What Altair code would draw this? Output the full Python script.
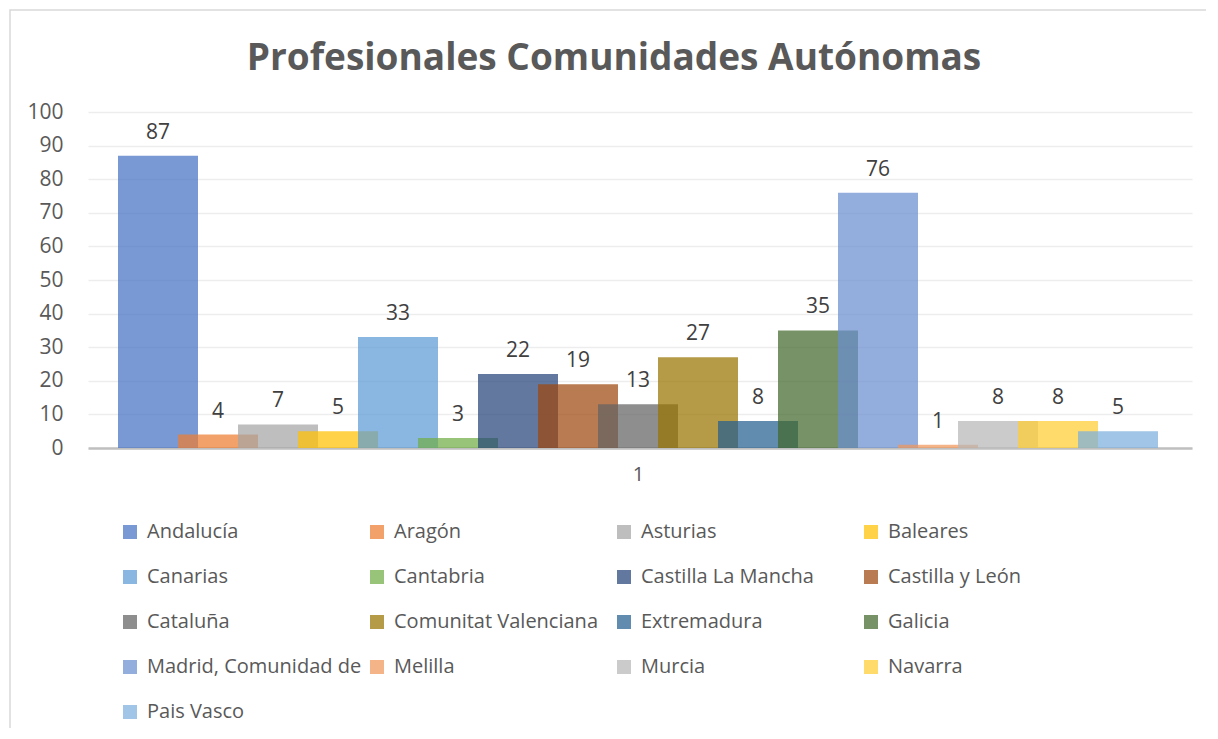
import altair as alt
import pandas as pd

regions = ["Andalucía", "Aragón", "Asturias", "Baleares", "Canarias", "Cantabria",
           "Castilla La Mancha", "Castilla y León", "Cataluña", "Comunitat Valenciana",
           "Extremadura", "Galicia", "Madrid, Comunidad de", "Melilla", "Murcia",
           "Navarra", "Pais Vasco"]
values = [87, 4, 7, 5, 33, 3, 22, 19, 13, 27, 8, 35, 76, 1, 8, 8, 5]
colors = ["#4472C4", "#ED7D31", "#A5A5A5", "#FFC000", "#5B9BD5", "#70AD47",
          "#264478", "#9E480E", "#636363", "#997300", "#255E91", "#43682B",
          "#698ED0", "#F1975A", "#B7B7B7", "#FFCD33", "#7CAFDD"]
y_ticks = list(range(0, 101, 10))
category_label = "1"
title_text = "Profesionales Comunidades Autónomas"

df = pd.DataFrame({"region": regions, "value": values, "idx": list(range(len(regions)))})

FONT = "Open Sans"
W, H = 1104, 336
OPA = 0.72

base = alt.Chart(df).transform_calculate(
    x0="datum.idx", x1="datum.idx + 4/3", xc="datum.idx + 2/3"
)

xscale = alt.Scale(domain=[-0.5, 17.9], nice=False, zero=False)
yscale = alt.Scale(domain=[0, 100], nice=False)

x_axis = alt.Axis(values=[8.6667], labelExpr=f"'{category_label}'", grid=False,
                  ticks=False, title=None, domainColor="#BFBFBF", domainWidth=2.5,
                  labelFontSize=20, labelFont=FONT, labelColor="#595959",
                  labelPadding=16)
y_axis = alt.Axis(values=y_ticks, grid=True, gridColor="#EDEDED", gridWidth=1.5,
                  domain=False, ticks=False, title=None, labelPadding=25,
                  labelOverlap=False,
                  labelFontSize=21, labelFont=FONT, labelColor="#595959")

bars = base.mark_bar(fillOpacity=OPA).encode(
    x=alt.X("x0:Q", scale=xscale, axis=x_axis),
    x2="x1:Q",
    y=alt.Y("value:Q", stack=None, scale=yscale, axis=y_axis),
    y2=alt.datum(0),
    color=alt.Color("region:N", scale=alt.Scale(domain=regions, range=colors),
                    legend=alt.Legend(title=None, orient="none", legendX=32, legendY=410,
                                      columns=4, direction="horizontal",
                                      symbolType="square", symbolSize=196,
                                      symbolStrokeWidth=0, symbolOpacity=OPA,
                                      labelFontSize=20, labelFont=FONT, labelColor="#595959",
                                      labelOffset=7, columnPadding=5, rowPadding=25,
                                      gridAlign="all", labelLimit=400)),
)

labels = base.mark_text(baseline="alphabetic", dy=-17, fontSize=21, font=FONT,
                        color="#404040").encode(
    x=alt.X("xc:Q", scale=xscale, axis=x_axis),
    y=alt.Y("value:Q", scale=yscale, axis=y_axis),
    text="value:Q"
)

border = alt.Chart(alt.Data(values=[{"b": 1}])).mark_rect(
    fill=None, stroke="#D9D9D9", strokeWidth=1.5
).encode(
    x=alt.value(-78), x2=alt.value(1200), y=alt.value(-102), y2=alt.value(800)
)

chart = alt.layer(border, bars, labels).properties(
    width=W, height=H,
    title=alt.Title(title_text, fontSize=37, font=FONT, fontWeight="bold",
                    color="#595959", anchor="middle", dx=-26, offset=-98,
                    baseline="alphabetic"),
    padding={"left": 80, "top": 104, "right": 14, "bottom": 280},
    autosize=alt.AutoSizeParams(type="none"),
).configure_view(stroke=None)

chart.save("out.html", embed_options={"renderer": "svg", "actions": False})
